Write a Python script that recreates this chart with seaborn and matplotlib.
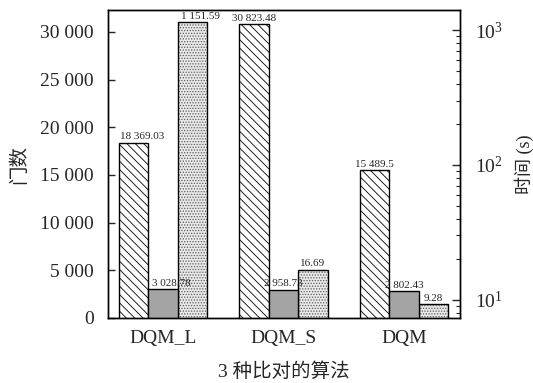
import matplotlib
matplotlib.use("Agg")
import matplotlib.pyplot as plt
import matplotlib.colors as mcolors
from matplotlib.ticker import FuncFormatter, FixedLocator, LogLocator
import seaborn as sns
import pandas as pd

categories = ["DQM_L", "DQM_S", "DQM"]
gates = [18369.03, 30823.48, 15489.5]
area = [3028.78, 2958.73, 2802.43]
time_s = [1151.59, 16.69, 9.28]
gate_ticks = [0, 5000, 10000, 15000, 20000, 25000, 30000]

sns.set_theme(style="white")
plt.rcParams["font.family"] = ["Liberation Serif", "Noto Sans CJK SC"]
plt.rcParams["mathtext.fontset"] = "stix"
plt.rcParams["hatch.linewidth"] = 0.6

levels = ["gates", "area", "time"]
left_df = pd.DataFrame({
    "alg": categories * 2,
    "metric": ["gates"] * 3 + ["area"] * 3,
    "value": gates + area,
})
right_df = pd.DataFrame({
    "alg": categories,
    "metric": ["time"] * 3,
    "value": time_s,
})
palette = {"gates": "white", "area": "#a4a4a4", "time": "#e9e9e9"}

fig = plt.figure(figsize=(5.33, 3.83), dpi=100)
ax = fig.add_axes([108 / 533, 1 - 318 / 383, 352 / 533, 308 / 383])

sns.barplot(data=left_df, x="alg", y="value", hue="metric", hue_order=levels,
            order=categories, palette=palette, width=0.735, dodge=True,
            edgecolor="black", linewidth=1.0, legend=False, ax=ax, errorbar=None)

ax2 = ax.twinx()
ax2.set_yscale("log")
sns.barplot(data=right_df, x="alg", y="value", hue="metric", hue_order=levels,
            order=categories, palette=palette, width=0.735, dodge=True,
            edgecolor="black", linewidth=1.0, legend=False, ax=ax2, errorbar=None)

# left axes (with its labels) drawn above the twin axes
ax.set_zorder(ax2.get_zorder() + 1)
ax.patch.set_visible(False)

left_conts = [c for c in ax.containers if len(c) > 0]
right_conts = [c for c in ax2.containers if len(c) > 0]
gate_bars, area_bars = left_conts[0], left_conts[1]
time_bars = right_conts[0]

for p in gate_bars:
    p.set_hatch("\\\\\\\\")
    p.set_edgecolor("black")
for p in time_bars:
    p.set_hatch("......")
    p.set_edgecolor("black")
    p._hatch_color = mcolors.to_rgba("#5a5a5a")

def fmt(v):
    return f"{v:,}".replace(",", " ")

anns = []
anns.append(ax.bar_label(gate_bars, labels=[fmt(v) for v in gates], padding=1, fontsize=8))
anns.append(ax.bar_label(area_bars, labels=[fmt(v) for v in area], padding=1, fontsize=8))
anns.append(ax2.bar_label(time_bars, labels=[fmt(v) for v in time_s], padding=1, fontsize=8))
# labels of the first group sit slightly to the right in the reference
for group in anns:
    x0, y0 = group[0].xyann
    group[0].xyann = (x0 + 6, y0)

ax.set_xlim(-0.456, 2.465)
ax.set_ylim(0, 32300)
ax2.set_ylim(7.31, 1414)

ax.yaxis.set_major_locator(FixedLocator(gate_ticks))
ax.yaxis.set_major_formatter(FuncFormatter(lambda v, p: fmt(int(v))))
ax.tick_params(axis="y", direction="in", length=5, width=1, labelsize=14, pad=10, left=True)
ax.tick_params(axis="x", length=0, labelsize=14, pad=9)
ax2.yaxis.set_major_locator(LogLocator(base=10))
ax2.yaxis.set_minor_locator(LogLocator(base=10, subs=range(2, 10)))
ax2.tick_params(axis="y", which="major", direction="in", length=6, width=1, labelsize=14, pad=11, right=True)
ax2.tick_params(axis="y", which="minor", direction="in", length=3, width=0.8, right=True)

for a in (ax, ax2):
    for s in a.spines.values():
        s.set_color("black")
        s.set_linewidth(1.0)
    a.grid(False)

ax.set_xlabel("3 种比对的算法", fontsize=14)
ax.set_ylabel("门数", fontsize=14)
ax2.set_ylabel("时间 (s)", fontsize=13)
ax.xaxis.set_label_coords(0.5, -0.143)
ax.yaxis.set_label_coords(-0.227, 0.5)
ax2.yaxis.set_label_coords(1.155, 0.5)

fig.savefig("out.png", dpi=100)
